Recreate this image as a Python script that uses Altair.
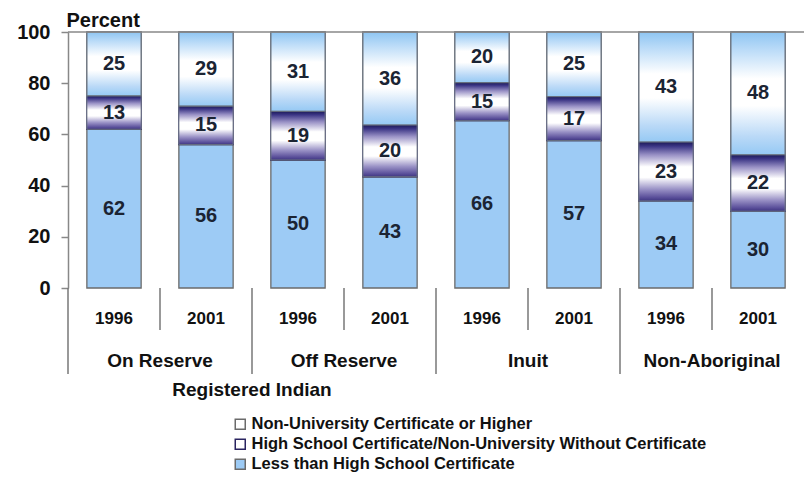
import altair as alt
import pandas as pd

# ---- data ----
groups = ["On Reserve", "Off Reserve", "Inuit", "Non-Aboriginal"]
years = ["1996", "2001"]
less_than_hs = [62, 56, 50, 43, 66, 57, 34, 30]
hs_cert = [13, 15, 19, 20, 15, 17, 23, 22]
non_uni = [25, 29, 31, 36, 20, 25, 43, 48]
series = [
    "Non-University Certificate or Higher",
    "High School Certificate/Non-University Without Certificate",
    "Less than High School Certificate",
]
y_ticks = [0, 20, 40, 60, 80, 100]
super_group = "Registered Indian"
super_members = ["On Reserve", "Off Reserve"]

FONT = "Liberation Sans"
W, H = 736, 256

keys, grp_col, yr_col = [], [], []
for g in groups:
    for y in years:
        keys.append(f"{g}|{y}")
        grp_col.append(g)
        yr_col.append(y)

rows = []
for i, k in enumerate(keys):
    for s, vals, order in [(series[2], less_than_hs, 0), (series[1], hs_cert, 1), (series[0], non_uni, 2)]:
        rows.append({"key": k, "group": grp_col[i], "year": yr_col[i], "series": s, "value": vals[i], "order": order})
df = pd.DataFrame(rows)
cats = pd.DataFrame({"key": keys, "group": grp_col, "year": yr_col})
# super group label sits at the boundary between its two member groups
super_df = pd.DataFrame({"label": [super_group], "key": [f"{super_members[1]}|{years[0]}"]})

x_scale = alt.Scale(domain=keys, paddingInner=0, paddingOuter=0)
X = alt.X("key:N", scale=x_scale, axis=None)
X_axis = alt.X("key:N", scale=x_scale, axis=alt.Axis(
    labels=False, ticks=False, title=None, domainColor="#888", domainWidth=1.5))

y_scale = alt.Scale(domain=[0, 1], nice=False)
y_axis = alt.Axis(
    values=[v / 100 for v in y_ticks],
    labelExpr="format(datum.value*100, 'd')",
    title="Percent", titleAngle=0, titleX=-2, titleY=-6, titleAlign="left",
    titleBaseline="alphabetic", titleFont=FONT, titleFontSize=20, titleFontWeight="bold",
    titleColor="#111",
    labelFont=FONT, labelFontSize=20, labelFontWeight="bold", labelColor="#111",
    labelPadding=11, tickSize=7, tickColor="#888", domainColor="#888", domainWidth=1.5,
    tickWidth=1.5, grid=False,
)

stacked = alt.Chart(df).transform_stack(
    stack="value", groupby=["key"], as_=["y0", "y1"], offset="normalize",
    sort=[alt.SortField("order", order="ascending")],
).transform_calculate(mid="(datum.y0 + datum.y1) / 2")

leg = alt.Legend(
    orient="none", legendX=164, legendY=384, title=None, symbolType="square",
    symbolSize=100, symbolStrokeWidth=1.5, labelFont=FONT, labelFontSize=16.5,
    labelFontWeight="bold", labelColor="#111", rowPadding=3, labelOffset=3, padding=0,
    labelLimit=0,
)

bar_w = alt.RelativeBandSize(0.59)

base_bars = stacked.mark_bar(width=bar_w, strokeWidth=1.3).encode(
    x=X_axis,
    y=alt.Y("y0:Q", scale=y_scale, axis=y_axis),
    y2="y1:Q",
    fill=alt.Fill("series:N", scale=alt.Scale(domain=series, range=["#ffffff", "#ffffff", "#9dcbf5"]), legend=leg),
    stroke=alt.Stroke("series:N", scale=alt.Scale(domain=series, range=["#6b6b6b", "#2a2460", "#6b6b6b"]), legend=leg),
)

grad_top = alt.LinearGradient(
    gradient="linear", x1=0, x2=0, y1=0, y2=1,
    stops=[
        alt.GradientStop(color="#8ec5f2", offset=0),
        alt.GradientStop(color="#bcdcf8", offset=0.15),
        alt.GradientStop(color="#ffffff", offset=0.38),
        alt.GradientStop(color="#ffffff", offset=0.6),
        alt.GradientStop(color="#bad9f7", offset=0.85),
        alt.GradientStop(color="#95c9f4", offset=1),
    ],
)
grad_mid = alt.LinearGradient(
    gradient="linear", x1=0, x2=0, y1=0, y2=1,
    stops=[
        alt.GradientStop(color="#1c1a58", offset=0),
        alt.GradientStop(color="#3b3585", offset=0.07),
        alt.GradientStop(color="#9a92c6", offset=0.22),
        alt.GradientStop(color="#ffffff", offset=0.42),
        alt.GradientStop(color="#ffffff", offset=0.6),
        alt.GradientStop(color="#9a92c6", offset=0.8),
        alt.GradientStop(color="#5a4f9a", offset=0.94),
        alt.GradientStop(color="#3e3580", offset=1),
    ],
)

top_bars = stacked.transform_filter(alt.datum.series == series[0]).mark_bar(
    width=bar_w, fill=grad_top, stroke="#6b7480", strokeWidth=1.3
).encode(x=X, y=alt.Y("y0:Q", scale=y_scale), y2="y1:Q")

mid_bars = stacked.transform_filter(alt.datum.series == series[1]).mark_bar(
    width=bar_w, fill=grad_mid, stroke="#6b7480", strokeWidth=1.0
).encode(x=X, y=alt.Y("y0:Q", scale=y_scale), y2="y1:Q")

labels = stacked.mark_text(font=FONT, fontSize=20, fontWeight="bold", color="#1b2433", baseline="middle").encode(
    x=X, y=alt.Y("mid:Q", scale=y_scale), text="value:Q"
)

# frame line along the top of the plot
top_line = alt.Chart(super_df).mark_rule(color="#888", strokeWidth=1.5).encode(
    x=alt.value(0), x2=alt.value(W), y=alt.value(0)
)

# hierarchical x axis
grp_sep = alt.Chart(cats).transform_filter(alt.datum.year == years[0]).mark_rule(
    color="#777", strokeWidth=1.5
).encode(x=alt.X("key:N", scale=x_scale, axis=None, bandPosition=0), y=alt.value(H), y2=alt.value(342))

yr_sep = alt.Chart(cats).transform_filter(alt.datum.year == years[1]).mark_rule(
    color="#777", strokeWidth=1.5
).encode(x=alt.X("key:N", scale=x_scale, axis=None, bandPosition=0), y=alt.value(H), y2=alt.value(298))

yr_text = alt.Chart(cats).mark_text(font=FONT, fontSize=17, fontWeight="bold", color="#111", baseline="middle").encode(
    x=X, y=alt.value(287), text="year:N"
)

grp_text = alt.Chart(cats).transform_filter(alt.datum.year == years[1]).mark_text(
    font=FONT, fontSize=19, fontWeight="bold", color="#111", baseline="middle"
).encode(x=alt.X("key:N", scale=x_scale, axis=None, bandPosition=0), y=alt.value(329), text="group:N")

super_text = alt.Chart(super_df).mark_text(
    font=FONT, fontSize=19, fontWeight="bold", color="#111", baseline="middle"
).encode(x=alt.X("key:N", scale=x_scale, axis=None, bandPosition=0), y=alt.value(358), text="label:N")

chart = alt.layer(
    base_bars, top_bars, mid_bars, labels, top_line, grp_sep, yr_sep, yr_text, grp_text, super_text
).properties(
    width=W, height=H, autosize="none",
    padding={"left": 60, "top": 24, "right": 0, "bottom": 190},
).configure_view(stroke=None)

chart.save("out.html", embed_options={"renderer": "svg", "actions": False})
